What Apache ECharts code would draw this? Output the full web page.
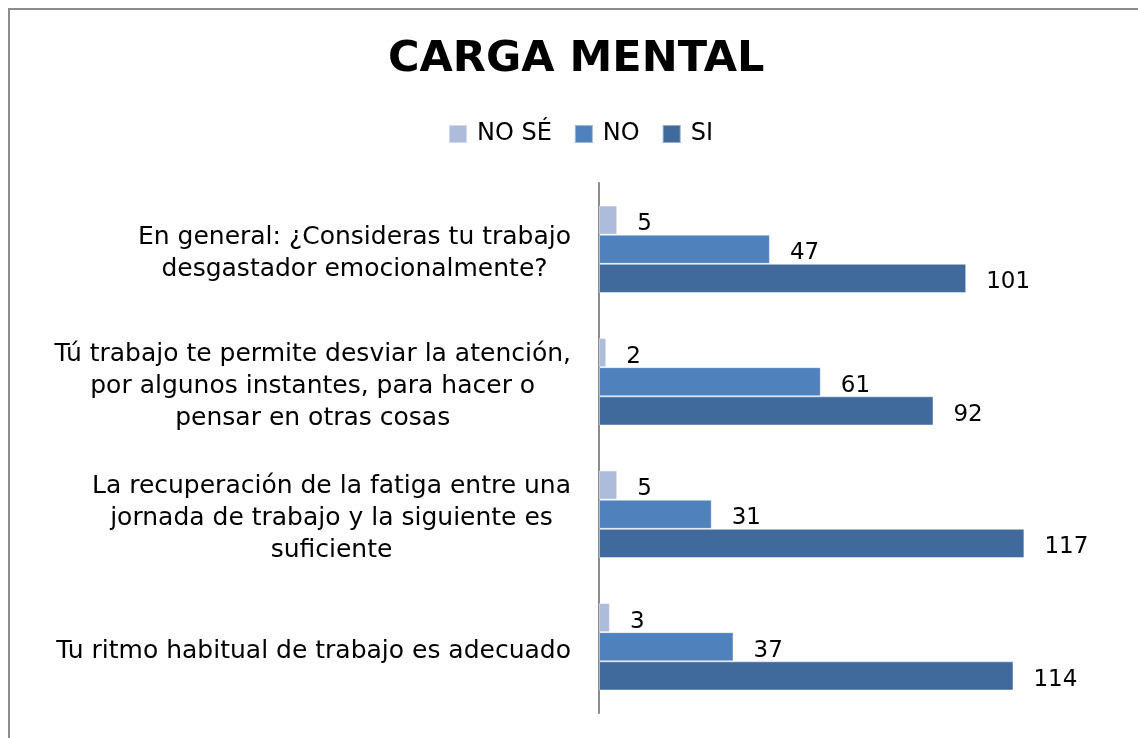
<!DOCTYPE html>
<html>
<head>
<meta charset="utf-8">
<title>Carga mental</title>
<script src="https://cdn.jsdelivr.net/npm/echarts@6/dist/echarts.min.js"></script>
<style>
  html, body { margin: 0; padding: 0; background: #fff; overflow: hidden; }
  #chart { width: 1138px; height: 738px; }
</style>
</head>
<body>
<div id="chart"></div>
<script>
// categories, top to bottom
const categories = [
  ['En general: ¿Consideras tu trabajo', 'desgastador emocionalmente?'],
  ['Tú trabajo te permite desviar la atención,', 'por algunos instantes, para hacer o', 'pensar en otras cosas'],
  ['La recuperación de la fatiga entre una', 'jornada de trabajo y la siguiente es', 'suficiente'],
  ['Tu ritmo habitual de trabajo es adecuado']
];
const seriesNames = ['NO SÉ', 'NO', 'SI'];
const noSe = [5, 2, 5, 3];
const no = [47, 61, 31, 37];
const si = [101, 92, 117, 114];
const colors = ['#aebcdc', '#4f81bd', '#3f6a9b'];

const FONT = '"DejaVu Sans", sans-serif';

const chart = echarts.init(document.getElementById('chart'));

const makeSeries = (name, data, color) => ({
  name: name,
  type: 'bar',
  data: data,
  barGap: '0%',
  barCategoryGap: '34%',
  itemStyle: { color: color, borderColor: 'rgba(255,255,255,0.45)', borderWidth: 1 },
  label: {
    show: true,
    position: 'right',
    distance: 20,
    offset: [0, 4],
    color: '#000',
    fontFamily: FONT,
    fontSize: 23
  }
});

const option = {
  animation: false,
  textStyle: { fontFamily: FONT },
  graphic: [{
    type: 'rect',
    shape: { x: 9, y: 9, width: 1300, height: 900 },
    style: { fill: 'none', stroke: '#8c8c8c', lineWidth: 2 }
  }],
  title: {
    text: 'CARGA MENTAL',
    left: 383,
    top: 33,
    textStyle: { fontFamily: FONT, fontSize: 43, fontWeight: 'bold', color: '#000' }
  },
  legend: {
    data: seriesNames,
    top: 117,
    left: 443,
    icon: 'rect',
    itemWidth: 18,
    itemHeight: 18,
    itemGap: 22,
    textStyle: { fontFamily: FONT, fontSize: 24, color: '#000', padding: [0, 0, 0, 5] }
  },
  grid: { left: 599, right: 30, top: 183, bottom: 25, containLabel: false },
  xAxis: {
    type: 'value',
    min: 0,
    max: 140,
    show: false
  },
  yAxis: {
    type: 'category',
    inverse: true,
    data: categories.map(lines => lines.join('\n')),
    axisLine: { show: true, lineStyle: { color: '#8c8c8c', width: 2 } },
    axisTick: { show: false },
    axisLabel: {
      margin: 28,
      align: 'right',
      padding: [9, 0, 0, 0],
      formatter: (value) => value.split('\n').map(l => '{c|' + l + '}').join('\n'),
      rich: {
        c: { align: 'center', fontFamily: FONT, fontSize: 25, color: '#000', lineHeight: 32 }
      }
    }
  },
  series: [
    makeSeries(seriesNames[0], noSe, colors[0]),
    makeSeries(seriesNames[1], no, colors[1]),
    makeSeries(seriesNames[2], si, colors[2])
  ]
};

chart.setOption(option);
</script>
</body>
</html>
